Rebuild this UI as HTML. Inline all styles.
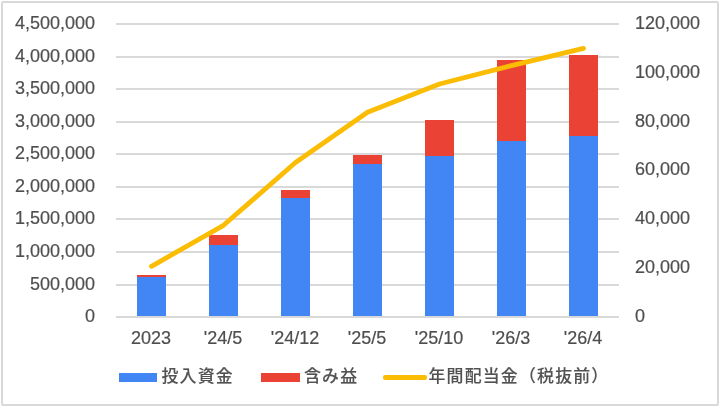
<!DOCTYPE html>
<html lang="ja">
<head>
<meta charset="utf-8">
<title>投入資金・含み益・年間配当金（税抜前）</title>
<style>
html,body{margin:0;padding:0;background:#fff;}
body{width:720px;height:406px;overflow:hidden;}
svg{display:block;}
text{font-family:"Liberation Sans","Noto Sans CJK JP",sans-serif;font-size:18px;fill:#4e4e4e;stroke:#4e4e4e;stroke-width:0.2px;letter-spacing:0;}
.lg{fill:#525252;stroke:#525252;stroke-width:0.1px;letter-spacing:1.2px;font-weight:500;font-size:16.9px;}
</style>
</head>
<body>
<svg width="720" height="406" viewBox="0 0 720 406">
<rect x="0" y="0" width="720" height="406" fill="#fff"/>
<rect x="2" y="2" width="716" height="403" rx="1" ry="1" fill="#fff" stroke="#d9d9d9" stroke-width="2"/>

<g stroke="#d9d9d9" stroke-width="2">
<line x1="116" x2="619" y1="317.00" y2="317.00"/>
<line x1="116" x2="619" y1="285.00" y2="285.00"/>
<line x1="116" x2="619" y1="252.00" y2="252.00"/>
<line x1="116" x2="619" y1="219.00" y2="219.00"/>
<line x1="116" x2="619" y1="187.00" y2="187.00"/>
<line x1="116" x2="619" y1="154.00" y2="154.00"/>
<line x1="116" x2="619" y1="122.00" y2="122.00"/>
<line x1="116" x2="619" y1="89.00" y2="89.00"/>
<line x1="116" x2="619" y1="57.00" y2="57.00"/>
<line x1="116" x2="619" y1="24.00" y2="24.00"/>
</g>
<g>
<rect x="137.00" y="277.00" width="29" height="39.00" fill="#4285f4"/>
<rect x="137.00" y="275.00" width="29" height="2.00" fill="#ea4335"/>
<rect x="209.00" y="245.00" width="29" height="71.00" fill="#4285f4"/>
<rect x="209.00" y="235.00" width="29" height="10.00" fill="#ea4335"/>
<rect x="281.00" y="198.00" width="29" height="118.00" fill="#4285f4"/>
<rect x="281.00" y="190.00" width="29" height="8.00" fill="#ea4335"/>
<rect x="353.00" y="164.00" width="29" height="152.00" fill="#4285f4"/>
<rect x="353.00" y="155.00" width="29" height="9.00" fill="#ea4335"/>
<rect x="425.00" y="156.00" width="29" height="160.00" fill="#4285f4"/>
<rect x="425.00" y="120.00" width="29" height="36.00" fill="#ea4335"/>
<rect x="497.00" y="141.00" width="29" height="175.00" fill="#4285f4"/>
<rect x="497.00" y="60.00" width="29" height="81.00" fill="#ea4335"/>
<rect x="569.00" y="136.00" width="29" height="180.00" fill="#4285f4"/>
<rect x="569.00" y="55.00" width="29" height="81.00" fill="#ea4335"/>
</g>
<polyline points="151.5,266.3 223.5,225.3 295.5,162.5 367.5,112.2 439.5,84.0 511.5,65.6 583.5,48.4" fill="none" stroke="#fbbc04" stroke-width="4.8" stroke-linecap="round" stroke-linejoin="round"/>
<g text-anchor="end">
<text x="95" y="321.90">0</text>
<text x="95" y="289.90">500,000</text>
<text x="95" y="256.90">1,000,000</text>
<text x="95" y="223.90">1,500,000</text>
<text x="95" y="191.90">2,000,000</text>
<text x="95" y="158.90">2,500,000</text>
<text x="95" y="126.90">3,000,000</text>
<text x="95" y="93.90">3,500,000</text>
<text x="95" y="61.90">4,000,000</text>
<text x="95" y="28.90">4,500,000</text>
</g>
<g text-anchor="start">
<text x="634.9" y="321.90">0</text>
<text x="634.9" y="273.07">20,000</text>
<text x="634.9" y="224.23">40,000</text>
<text x="634.9" y="175.40">60,000</text>
<text x="634.9" y="126.57">80,000</text>
<text x="634.9" y="77.73">100,000</text>
<text x="634.9" y="28.90">120,000</text>
</g>
<g text-anchor="middle">
<text x="151.1" y="344">2023</text>
<text x="223.1" y="344">'24/5</text>
<text x="295.1" y="344">'24/12</text>
<text x="367.1" y="344">'25/5</text>
<text x="439.1" y="344">'25/10</text>
<text x="511.1" y="344">'26/3</text>
<text x="583.1" y="344">'26/4</text>
</g>
<g>
<rect x="119" y="373" width="38" height="9" fill="#4285f4"/>
<text class="lg" x="161.5" y="382.1">投入資金</text>
<rect x="261" y="373" width="39" height="9" fill="#ea4335"/>
<text class="lg" x="304" y="382.1">含み益</text>
<rect x="383" y="375" width="44" height="5" rx="2.2" ry="2.2" fill="#fbbc04"/>
<text class="lg" x="428.5" y="382.1">年間配当金（税抜前）</text>
</g>
</svg>
</body>
</html>
